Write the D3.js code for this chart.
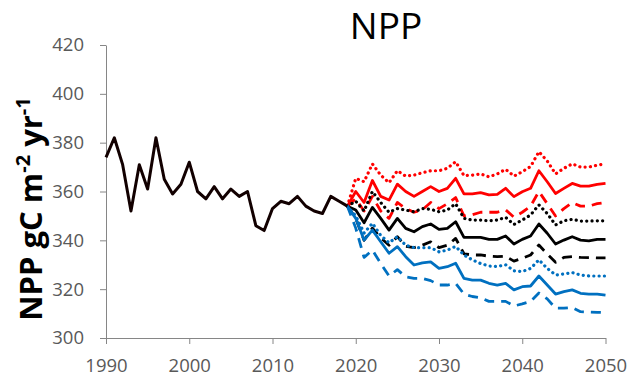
<!DOCTYPE html>
<html>
<head>
<meta charset="utf-8">
<script src="https://cdn.jsdelivr.net/npm/d3@7/dist/d3.min.js"></script>
<style>
  html, body { margin: 0; padding: 0; background: #fff; }
  svg { display: block; }
</style>
</head>
<body>
<svg id="chart" width="640" height="380"></svg>
<script>
// Observed NPP, 1990-2019
const histYears = d3.range(1990, 2020);
const histValues = [374, 382, 371, 352, 371, 361, 382, 365, 359, 363,
                    372, 360, 357, 362, 357, 361, 358, 360, 346, 344,
                    353, 356, 355, 358, 354, 352, 351, 358, 356, 354];

// Projected NPP, 2020-2050, nine scenarios
const projYears = d3.range(2020, 2051);
const redDotted = [365.4, 364, 371.3, 366.7, 363.6, 368.5, 366.3, 366.7, 367.7, 368.5, 368.5, 369.5, 372.2, 366.5, 366.7, 367.2,
                   366, 367.2, 369.1, 366.3, 368.1, 370.2, 376.3, 372.5, 367.2, 369.5, 371.3, 370, 370, 370.8, 371.3];
const redSolid = [360, 355.5, 364.5, 358, 356.5, 363, 360, 358, 360, 362, 360, 361.3, 365.4, 359, 359, 359.5,
                  358.6, 358.8, 361.3, 357.9, 359.9, 361.3, 368.5, 364, 359.2, 361.3, 363.3, 362.2, 362.2, 362.9, 363.3];
const redDashed = [357, 352, 358, 352, 349, 355.5, 353, 351.5, 352.5, 355.5, 353, 355, 357.5, 350, 350.5, 351.5,
                   351.5, 351.5, 352.5, 349.5, 351.5, 354, 360, 355, 350, 353, 355.5, 354, 354, 355, 355.5];
const blackDotted = [356, 352, 360, 355.5, 351.5, 353, 352.4, 351.7, 353, 352.7, 351.7, 352.4, 355, 349, 348.3, 348.3,
                     348, 348.3, 349.4, 346.5, 348.3, 350.4, 354.5, 351, 346.3, 348, 348.6, 347.9, 347.9, 348, 348];
const blackSolid = [352.4, 347.2, 353.5, 349, 344.2, 349, 344.9, 343.5, 345.6, 346.7, 344.5, 344.9, 347.6, 341.2, 341.2, 341.2,
                    340.4, 340.4, 341.8, 338.5, 340.4, 341.8, 346.7, 342.9, 338.5, 340.1, 341.5, 340.1, 339.8, 340.4, 340.4];
const blackDashed = [349, 340, 345, 341, 338, 341.5, 337.5, 337, 338, 339.4, 337, 338, 340.8, 334.5, 334, 334,
                     333.5, 333.3, 333.5, 331.5, 332.6, 334, 338.1, 334.4, 331, 333, 333.3, 333, 332.9, 332.8, 332.8];
const blueDotted = [350, 343, 347, 342, 339, 341.5, 338, 337, 337, 337, 335.3, 336, 337.5, 334, 332, 330.5,
                    329.5, 329.3, 330, 327.5, 327.2, 328.5, 332, 328.5, 325.8, 326.2, 326.8, 325.8, 325.4, 325.4, 325.4];
const blueSolid = [349, 340.1, 344.2, 339.4, 334.7, 337.4, 333.3, 329.9, 330.8, 331.2, 328.5, 329.2, 330.6, 324.4, 323.7, 323.7,
                   322.4, 321.7, 322.4, 319.7, 321, 321.3, 325.4, 321.7, 318, 319, 319.7, 318.3, 318, 318, 317.6];
const blueDashed = [345, 333, 336, 330.5, 325.4, 328, 325, 324.4, 324.4, 323.5, 321.7, 321.7, 322.4, 318, 317, 316.5,
                    315, 315, 315, 313.1, 314, 315, 318.4, 316, 312.2, 312.2, 312.5, 310.8, 310.6, 310.5, 310.4];

const xTicks = [1990, 2000, 2010, 2020, 2030, 2040, 2050];
const yTicks = [300, 320, 340, 360, 380, 400, 420];

const svg = d3.select("#chart");
const axisColor = "#868686";
const labelColor = "#595959";
const font = "'Open Sans', 'Noto Sans', sans-serif";

const x = d3.scaleLinear().domain([1990, 2050]).range([106, 605.5]);
const y = d3.scaleLinear().domain([300, 420]).range([338, 45]);

// Axes
const xAxis = svg.append("g")
  .attr("transform", `translate(0,${y(300)})`)
  .call(d3.axisBottom(x).tickValues(xTicks).tickFormat(d3.format("d")).tickSize(6).tickSizeOuter(0).tickPadding(15));
const yAxis = svg.append("g")
  .attr("transform", `translate(${x(1990)},0)`)
  .call(d3.axisLeft(y).tickValues(yTicks).tickSize(6).tickSizeOuter(0).tickPadding(16));

[xAxis, yAxis].forEach(g => {
  g.select(".domain").attr("stroke", axisColor).attr("stroke-width", 1);
  g.selectAll(".tick line").attr("stroke", axisColor).attr("stroke-width", 1);
  g.selectAll(".tick text")
    .attr("fill", labelColor)
    .style("font-family", font)
    .style("font-size", "18.5px");
});

const line = d3.line().x(d => x(d[0])).y(d => y(d[1]));

// Projections start from the last observed year
const lastYear = histYears[histYears.length - 1];
const lastValue = histValues[histValues.length - 1];

const scenarios = [
  { values: redDashed, color: "#FF0000", dash: "10 7" },
  { values: redDotted, color: "#FF0000", dash: "0.1 5.2" },
  { values: redSolid, color: "#FF0000", dash: null },
  { values: blackDashed, color: "#000000", dash: "10 7" },
  { values: blackDotted, color: "#000000", dash: "0.1 5.2" },
  { values: blackSolid, color: "#000000", dash: null },
  { values: blueDashed, color: "#0070C0", dash: "10 7" },
  { values: blueDotted, color: "#0070C0", dash: "0.1 5.2" },
  { values: blueSolid, color: "#0070C0", dash: null }
];

const proj = svg.append("g").attr("fill", "none");
scenarios.forEach(s => {
  const dotted = s.dash && s.dash.startsWith("0.1");
  const pts = [[lastYear, lastValue]].concat(projYears.map((yr, i) => [yr, s.values[i]]));
  proj.append("path")
    .attr("d", line(pts))
    .attr("stroke", s.color)
    .attr("stroke-width", dotted ? 3.2 : 2.8)
    .attr("stroke-linecap", dotted ? "round" : "butt")
    .attr("stroke-linejoin", "round")
    .attr("stroke-dasharray", s.dash);
});

// Observed series
svg.append("path")
  .attr("d", line(histYears.map((yr, i) => [yr, histValues[i]])))
  .attr("fill", "none")
  .attr("stroke", "#120000")
  .attr("stroke-width", 3)
  .attr("stroke-linejoin", "round");

// Title
svg.append("text")
  .attr("x", 386).attr("y", 39)
  .attr("text-anchor", "middle")
  .style("font-family", font)
  .style("font-size", "37px")
  .attr("fill", "#000")
  .text("NPP");

// Y-axis title with superscripts
const yTitle = svg.append("text")
  .attr("transform", "translate(42,209) rotate(-90)")
  .attr("text-anchor", "middle")
  .style("font-family", font)
  .style("font-size", "31px")
  .style("font-weight", "bold")
  .attr("fill", "#000");
yTitle.append("tspan").text("NPP gC m");
yTitle.append("tspan").attr("dy", -12).style("font-size", "20px").text("-2");
yTitle.append("tspan").attr("dy", 12).text(" yr");
yTitle.append("tspan").attr("dy", -12).style("font-size", "20px").text("-1");
</script>
</body>
</html>
